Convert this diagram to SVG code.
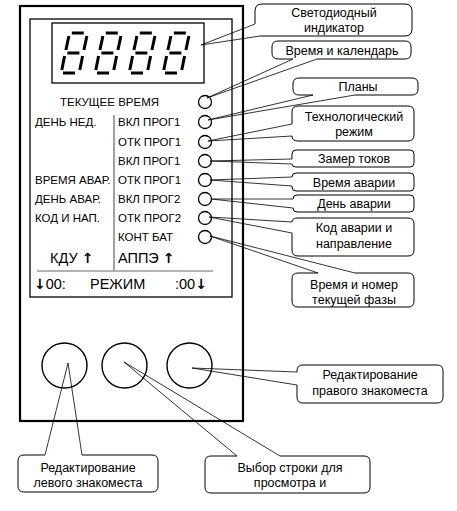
<svg xmlns="http://www.w3.org/2000/svg" width="457" height="511" viewBox="0 0 457 511">
<style>
.bg{fill:#fff}
.frame{fill:none;stroke:#000;stroke-width:2.2}
.inner{fill:none;stroke:#000;stroke-width:1.3}
.disp{fill:none;stroke:#000;stroke-width:1.3}
.seg{stroke:#000;stroke-width:3;stroke-linecap:butt}
.led{fill:#fff;stroke:#000;stroke-width:1.3}
.btn{fill:#fff;stroke:#000;stroke-width:1.4}
.pt{font-family:"Liberation Sans",Arial,sans-serif;font-size:11.5px;fill:#000}
.big{font-family:"Liberation Sans",Arial,sans-serif;font-size:14.5px;fill:#000}
.arr{font-family:"DejaVu Sans","Liberation Sans",sans-serif;font-weight:bold;font-size:14px}
.box{fill:#fff;stroke:#000;stroke-width:1}
.ct{font-family:"Liberation Sans",Arial,sans-serif;font-size:12.5px;fill:#000;text-anchor:middle}
.con{fill:none;stroke:#000;stroke-width:0.8}
</style>
<defs>
<g id="digit">
<line class="seg" x1="10.8" y1="33" x2="22.8" y2="33"/>
<line class="seg" x1="7.9" y1="36" x2="4.9" y2="50"/>
<line class="seg" x1="25.9" y1="36" x2="22.9" y2="50"/>
<line class="seg" x1="6.4" y1="53" x2="18.4" y2="53"/>
<line class="seg" x1="3.6" y1="56" x2="0.8" y2="70"/>
<line class="seg" x1="21.6" y1="56" x2="18.8" y2="70"/>
<line class="seg" x1="2" y1="73" x2="14" y2="73"/>
</g>
</defs>
<rect class="bg" x="0" y="0" width="457" height="511"/>
<g id="panel">
<rect class="frame" x="20" y="6" width="223" height="415"/>
<rect class="inner" x="30" y="19" width="202" height="278"/>
</g>
<g id="display">
<rect class="disp" x="52" y="23" width="152" height="60"/>
<use href="#digit" x="61"/>
<use href="#digit" x="95"/>
<use href="#digit" x="129"/>
<use href="#digit" x="163"/>
</g>
<g id="labels">
<text class="pt" x="60" y="106">ТЕКУЩЕЕ ВРЕМЯ</text>
<text class="pt" x="35" y="126">ДЕНЬ НЕД.</text>
<text class="pt" x="35" y="184">ВРЕМЯ АВАР.</text>
<text class="pt" x="35" y="203">ДЕНЬ АВАР.</text>
<text class="pt" x="35" y="222">КОД И НАП.</text>
<text class="pt" x="118" y="126">ВКЛ ПРОГ1</text>
<text class="pt" x="118" y="146">ОТК ПРОГ1</text>
<text class="pt" x="118" y="165">ВКЛ ПРОГ1</text>
<text class="pt" x="118" y="184">ОТК ПРОГ1</text>
<text class="pt" x="118" y="203">ВКЛ ПРОГ2</text>
<text class="pt" x="118" y="222">ОТК ПРОГ2</text>
<text class="pt" x="118" y="241">КОНТ БАТ</text>
<line x1="114" y1="115" x2="114" y2="271" stroke="#444" stroke-width="1"/>
<line x1="37" y1="271" x2="213" y2="271" stroke="#999" stroke-width="1.6"/>
<text class="big" x="50" y="263">КДУ <tspan class="arr">↑</tspan></text>
<text class="big" x="118" y="263">АППЭ <tspan class="arr">↑</tspan></text>
<text class="big" x="34" y="289"><tspan class="arr">↓</tspan>00:</text>
<text class="big" x="90" y="289">РЕЖИМ</text>
<text class="big" x="175" y="289">:00<tspan class="arr">↓</tspan></text>
</g>
<g id="leds">
<circle class="led" cx="205" cy="102" r="6.5"/>
<circle class="led" cx="205" cy="122" r="6.5"/>
<circle class="led" cx="205" cy="142" r="6.5"/>
<circle class="led" cx="205" cy="161" r="6.5"/>
<circle class="led" cx="205" cy="180" r="6.5"/>
<circle class="led" cx="205" cy="199" r="6.5"/>
<circle class="led" cx="205" cy="218" r="6.5"/>
<circle class="led" cx="205" cy="237" r="6.5"/>
</g>
<g id="buttons">
<circle class="btn" cx="64.5" cy="365.5" r="22.5"/>
<circle class="btn" cx="124.5" cy="365.5" r="22.5"/>
<circle class="btn" cx="189.5" cy="365.5" r="22.5"/>
</g>
<g id="c1"><path class="box" d="M260,36 H405 Q412,36 412,29 V11 Q412,4 405,4 H262 Q255,4 255,11 V24"/><text class="ct" x="334" y="17">Светодиодный</text><text class="ct" x="334" y="32">индикатор</text></g>
<g id="c2"><path class="box" d="M317,59 H405 Q411,59 411,53 V47 Q411,41 405,41 H278 Q272,41 272,47 V53 Q272,59 278,59 H293"/><text class="ct" x="342" y="55">Время и календарь</text></g>
<g id="c3"><path class="box" d="M355,95 H412 Q418,95 418,89 V84 Q418,78 412,78 H299 Q293,78 293,84 V89 Q293,95 299,95 H313"/><text class="ct" x="358" y="91">Планы</text></g>
<g id="c4"><path class="box" d="M292,136 Q292,141 298,141 H408 Q414,141 414,135 V112 Q414,106 408,106 H298 Q292,106 292,112 V124"/><text class="ct" x="354" y="121">Технологический</text><text class="ct" x="354" y="136">режим</text></g>
<g id="c5"><path class="box" d="M292,164 Q292,167 296,167 H410 Q414,167 414,163 V154 Q414,150 410,150 H296 Q292,150 292,154 V159"/><text class="ct" x="354" y="163">Замер токов</text></g>
<g id="c6"><path class="box" d="M292,186 V187 Q292,191 296,191 H410 Q414,191 414,187 V177 Q414,173 410,173 H296 Q292,173 292,177"/><text class="ct" x="354" y="187">Время аварии</text></g>
<g id="c7"><path class="box" d="M293,208 Q293,212 297,212 H410 Q414,212 414,208 V199 Q414,195 410,195 H297 Q293,195 293,199"/><text class="ct" x="354" y="208">День аварии</text></g>
<g id="c8"><path class="box" d="M292,233 V250 Q292,256 298,256 H408 Q414,256 414,250 V224 Q414,218 408,218 H298 Q292,218 292,222"/><text class="ct" x="354" y="232">Код аварии и</text><text class="ct" x="354" y="248">направление</text></g>
<g id="c9"><path class="box" d="M355,273 H408 Q414,273 414,279 V301 Q414,307 408,307 H298 Q292,307 292,301 V279 Q292,273 298,273 H318"/><text class="ct" x="354" y="289">Время и номер</text><text class="ct" x="354" y="304">текущей фазы</text></g>
<g id="c10"><path class="box" d="M297,385 V397 Q297,403 303,403 H437 Q443,403 443,397 V371 Q443,365 437,365 H303 Q297,365 297,371 V372"/><text class="ct" x="370" y="379">Редактирование</text><text class="ct" x="370" y="395">правого знакоместа</text></g>
<g id="c11"><path class="box" d="M82,455 H152 Q158,455 158,461 V486 Q158,492 152,492 H24 Q18,492 18,486 V461 Q18,455 24,455 H45"/><text class="ct" x="88" y="472">Редактирование</text><text class="ct" x="88" y="487">левого знакоместа</text></g>
<g id="c12"><path class="box" d="M280,456 H364 Q370,456 370,462 V487 Q370,493 364,493 H211 Q205,493 205,487 V462 Q205,456 211,456 H237"/><text class="ct" x="290" y="472">Выбор строки для</text><text class="ct" x="290" y="487">просмотра и</text></g>
<g id="connectors">
<path class="con" d="M255,24 L201,45 L260,36"/>
<path class="con" d="M293,59 L207,98 L317,59"/>
<path class="con" d="M313,95 L208,120 L355,95"/>
<path class="con" d="M292,124 L208,141 L292,136"/>
<path class="con" d="M292,159 L210,161 L292,164"/>
<path class="con" d="M292,177 L210,180 L292,186"/>
<path class="con" d="M293,199 L211,199 L293,208"/>
<path class="con" d="M292,222 L209,217 L292,233"/>
<path class="con" d="M318,273 L210,236 L355,273"/>
<path class="con" d="M297,372 L192,368 L297,385"/>
<path class="con" d="M45,455 L68,363 L82,455"/>
<path class="con" d="M237,456 L124,362 L280,456"/>
</g>
</svg>
